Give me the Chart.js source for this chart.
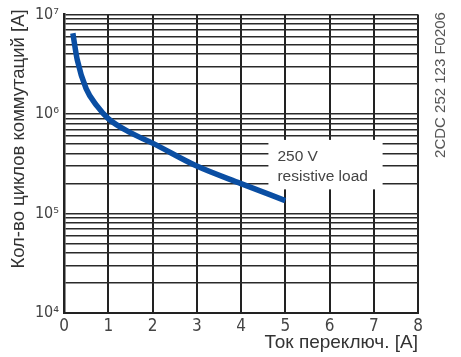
<!DOCTYPE html>
<html><head><meta charset="utf-8">
<script src="https://cdn.jsdelivr.net/npm/chart.js@4/dist/chart.umd.min.js"></script>
<style>html,body{margin:0;padding:0;background:#fff}#w{width:461px;height:357px}</style>
</head><body><div id="w"><canvas id="c" width="461" height="357"></canvas></div>
<script>
const currentA = [0.2, 0.3, 0.5, 0.75, 1, 1.5, 2, 3, 4, 5];
const cycles = [6.5e6, 3.5e6, 1.8e6, 1.2e6, 9e5, 6.5e5, 5.1e5, 3e5, 2e5, 1.35e5];
const xTickValues = [0,1,2,3,4,5,6,7,8];
const xTickLabels = ['0','1','2','3','4','5','6','7','8'];
const yGridValues = [1e4,2e4,3e4,4e4,5e4,6e4,7e4,8e4,9e4,1e5,2e5,3e5,4e5,5e5,6e5,7e5,8e5,9e5,1e6,2e6,3e6,4e6,5e6,6e6,7e6,8e6,9e6,1e7];
const yLabelValues = [1e4,1e5,1e6,1e7];
const yLabelTexts = ['10\u2074','10\u2075','10\u2076','10\u2077'];
const yTitle = 'Кол-во циклов коммутаций [А]';
const xTitle = 'Ток переключ. [А]';
const noteLines = ['250 V', 'resistive load'];
const noteBox = {x0: 4.62, x1: 7.2, y0: 5.5e5, y1: 1.75e5};
const sideCode = '2CDC 252 123 F0206';

const FONT = '"Liberation Sans", Arial, sans-serif';
const NARROW = '"DejaVu Sans Condensed", "Liberation Sans Narrow", "Liberation Sans", Arial, sans-serif';

const extras = {
  id: 'extras',
  beforeDatasetsDraw(chart) {
    const {ctx, scales:{x, y}} = chart;
    const l = x.getPixelForValue(noteBox.x0), r = x.getPixelForValue(noteBox.x1);
    const t = y.getPixelForValue(noteBox.y0), b = y.getPixelForValue(noteBox.y1);
    ctx.save();
    ctx.fillStyle = '#fff';
    ctx.fillRect(l, t, r - l, b - t);
    ctx.fillStyle = '#444';
    ctx.font = '15.5px ' + FONT;
    ctx.textBaseline = 'middle';
    ctx.fillText(noteLines[0], l + 9, t + 17);
    ctx.fillText(noteLines[1], l + 9, t + 37);
    ctx.restore();
  },
  afterDraw(chart) {
    const {ctx} = chart;
    ctx.save();
    ctx.fillStyle = '#555';
    ctx.textAlign = 'center';
    ctx.textBaseline = 'middle';
    ctx.save();
    ctx.translate(441, 85);
    ctx.rotate(-Math.PI/2);
    ctx.font = '15px ' + FONT;
    ctx.fillText(sideCode, 0, 0);
    ctx.restore();
    ctx.fillStyle = '#333';
    ctx.save();
    ctx.translate(19, 139);
    ctx.rotate(-Math.PI/2);
    ctx.font = '18.5px ' + FONT;
    ctx.fillText(yTitle, 0, 0);
    ctx.restore();
    ctx.textAlign = 'right';
    ctx.font = '19px ' + FONT;
    ctx.fillText(xTitle, 418, 343);
    ctx.restore();
  }
};

new Chart(document.getElementById('c'), {
  type: 'line',
  data: {
    datasets: [{
      data: currentA.map((v, i) => ({x: v, y: cycles[i]})),
      borderColor: '#0a4ea3',
      borderWidth: 5.5,
      pointRadius: 0,
      cubicInterpolationMode: 'monotone',
      fill: false
    }]
  },
  plugins: [extras],
  options: {
    responsive: false,
    animation: false,
    devicePixelRatio: 1,
    layout: {padding: {left: 0, right: 43, top: 12, bottom: 0}},
    plugins: {legend: {display: false}, tooltip: {enabled: false}},
    scales: {
      x: {
        type: 'linear', min: 0, max: 8,
        afterBuildTicks(s) { s.ticks = xTickValues.map(v => ({value: v})); },
        afterFit(s) { s.height = 44; },
        ticks: {
          callback: (v) => { const i = xTickValues.indexOf(v); return i >= 0 ? xTickLabels[i] : ''; },
          color: '#444', font: {family: NARROW, size: 17}, padding: 3, maxRotation: 0, autoSkip: false
        },
        grid: {color: '#222', lineWidth: 2, drawTicks: false},
        border: {color: '#222', width: 2},
        title: {display: false}
      },
      y: {
        type: 'logarithmic', min: 1e4, max: 1e7,
        afterBuildTicks(s) { s.ticks = yGridValues.map(v => ({value: v})); },
        afterFit(s) { s.width = 64; },
        ticks: {
          callback: (v) => { const i = yLabelValues.indexOf(v); return i >= 0 ? yLabelTexts[i] : ''; },
          color: '#444', font: {family: NARROW, size: 16}, padding: 5, autoSkip: false
        },
        grid: {color: '#2a2a2a', lineWidth: 1.6, drawTicks: false},
        border: {color: '#222', width: 2.5},
        title: {display: false}
      }
    }
  }
});
</script>
</body></html>
